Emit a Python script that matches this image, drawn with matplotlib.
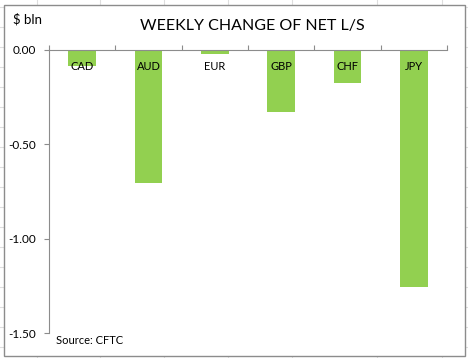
import numpy as np
import matplotlib
matplotlib.use("Agg")
import matplotlib.pyplot as plt
from matplotlib.lines import Line2D
from matplotlib.patches import Rectangle

currencies = ["CAD", "AUD", "EUR", "GBP", "CHF", "JPY"]
changes = [-0.085, -0.705, -0.02, -0.33, -0.175, -1.255]
yticks_vals = [0.0, -0.5, -1.0, -1.5]
yticks_txt = ["0.00", "-0.50", "-1.00", "-1.50"]

plt.rcParams['font.family'] = ['Lato', 'DejaVu Sans']

W, H = 468, 358
fig = plt.figure(figsize=(W / 100, H / 100), dpi=100)
fig.patch.set_facecolor('white')

# spreadsheet cell grid behind the chart
grid_c = '#dedede'
for gx in [37, 100, 164, 228, 292, 377, 442]:
    fig.add_artist(Line2D([gx / W, gx / W], [0, 1], color=grid_c, lw=0.8, zorder=-3))
for gy in range(7, H, 20):
    fig.add_artist(Line2D([0, 1], [1 - gy / H, 1 - gy / H], color=grid_c, lw=0.8, zorder=-3))

# chart area box
fig.add_artist(Rectangle((4 / W, 2 / H), 461 / W, 351 / H, facecolor='white',
                         edgecolor='#8c8c8c', lw=1.0, zorder=-2))

ax = fig.add_axes([49 / W, 25 / H, 398 / W, 283 / H])
ax.set_facecolor('none')

x = np.arange(len(currencies))
ax.bar(x, changes, width=0.42, color='#92d050', zorder=2)

ax.set_xlim(-0.5, len(currencies) - 0.5)
ax.set_ylim(-1.5, 0)

ax.xaxis.tick_top()
ax.set_xticks(np.arange(-0.5, len(currencies)))
ax.set_xticklabels([])
ax.tick_params(axis='x', direction='out', length=3.5, color='#8c8c8c', width=0.8)

ax.set_yticks(yticks_vals)
ax.set_yticklabels(yticks_txt, fontsize=8.5)
ax.tick_params(axis='y', direction='out', length=3.5, color='#8c8c8c', width=0.8, pad=6)

for side in ['bottom', 'right']:
    ax.spines[side].set_visible(False)
for side in ['top', 'left']:
    ax.spines[side].set_color('#8c8c8c')
    ax.spines[side].set_linewidth(0.8)

for i, c in enumerate(currencies):
    ax.text(i, 0.94, c, transform=ax.get_xaxis_transform(), ha='center', va='center',
            fontsize=8, zorder=3)

fig.text(252 / W, 1 - 26 / H, "WEEKLY CHANGE OF NET L/S", ha='center', va='center', fontsize=11.5)
fig.text(13 / W, 1 - 19 / H, "$ bln", ha='left', va='center', fontsize=9.5)
fig.text(56 / W, 1 - 341 / H, "Source: CFTC", ha='left', va='center', fontsize=8)

fig.savefig("out.png", dpi=100)
